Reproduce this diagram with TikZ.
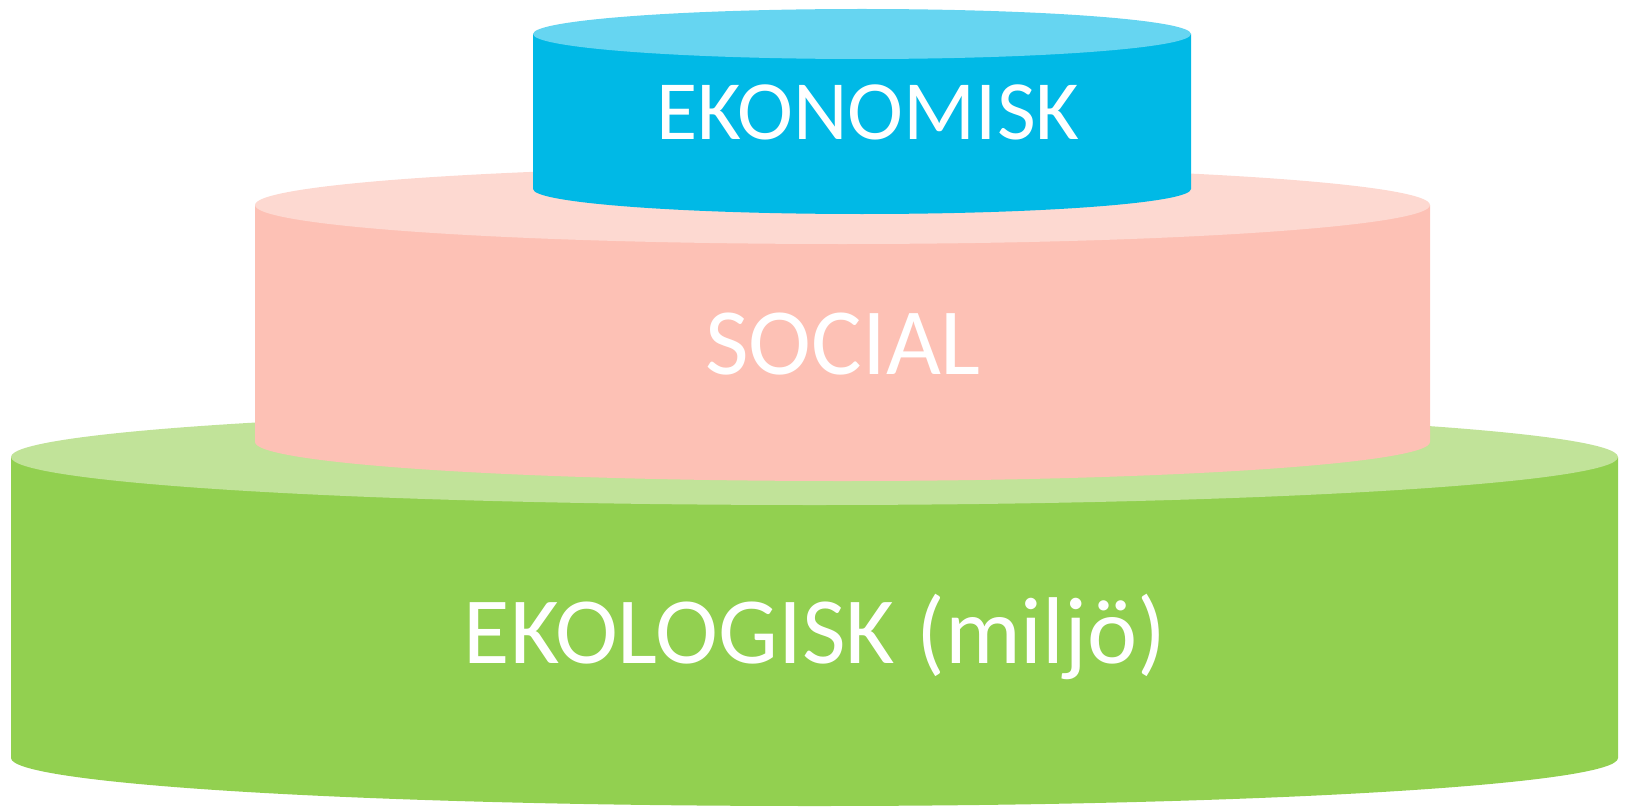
\documentclass[tikz,border=0pt]{standalone}
\usepackage{fontspec}
\setmainfont{Carlito}
\definecolor{greenside}{HTML}{92D050}
\definecolor{greentop}{HTML}{C1E399}
\definecolor{pinkside}{HTML}{FDC1B5}
\definecolor{pinktop}{HTML}{FDD9D1}
\definecolor{blueside}{HTML}{00B9E6}
\definecolor{bluetop}{HTML}{66D5F1}
\tikzset{
  lbl/.style={text=white,anchor=base,inner sep=0pt,font=\fontsize{54}{54}\selectfont},
  smalllbl/.style={lbl,font=\fontsize{48}{48}\selectfont}
}
\begin{document}
\begin{tikzpicture}[x=0.02cm,y=0.02cm]
    \useasboundingbox (0,0) rectangle (1625,806);
    % ekologisk
    \fill[greenside] (11,349) -- (11,48) arc (180:360:803.5 and 48) -- (1618,349) -- cycle;
    \fill[greentop] (814.5,349) ellipse (803.5 and 48);
    % social
    \fill[pinkside] (255,601) -- (255,364) arc (180:360:587.5 and 39) -- (1430,601) -- cycle;
    \fill[pinktop] (842.5,601) ellipse (587.5 and 39);
    % ekonomisk
    \fill[blueside] (533,772) -- (533,617) arc (180:360:329 and 25) -- (1191,772) -- cycle;
    \fill[bluetop] (862,772) ellipse (329 and 25);
    \node[lbl] (ekologisk) at (815,143) {EKOLOGISK (miljö)};
    \node[lbl] (social) at (843,432) {SOCIAL};
    \node[smalllbl] (ekonomisk) at (868,666) {EKONOMISK};
\end{tikzpicture}
\end{document}
